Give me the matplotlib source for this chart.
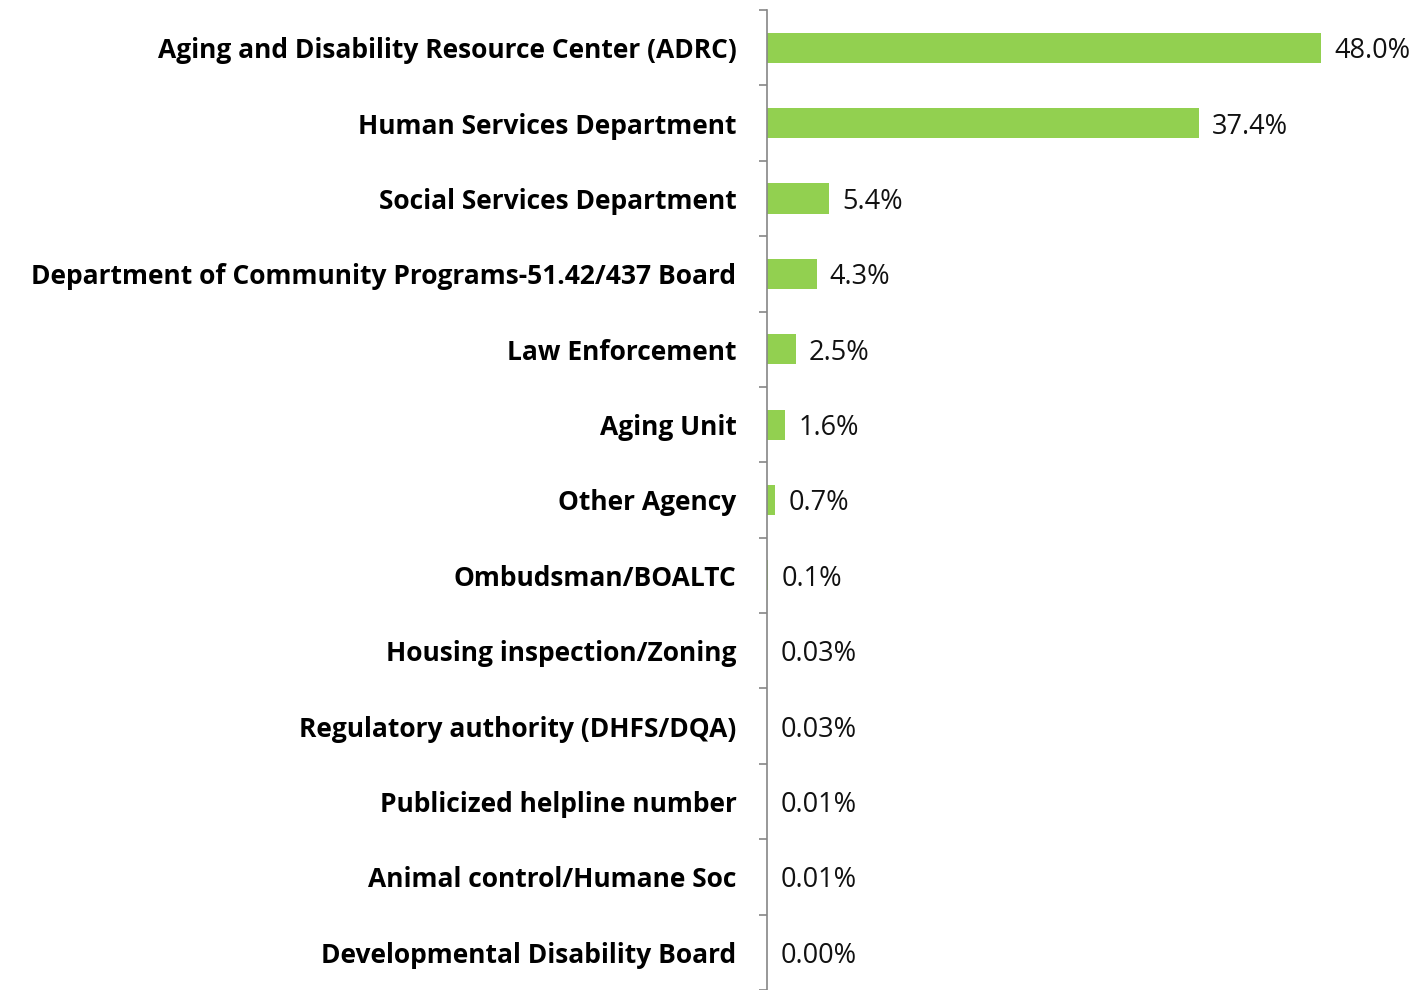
import matplotlib
matplotlib.use("Agg")
import matplotlib.pyplot as plt
import numpy as np

categories = [
    "Aging and Disability Resource Center (ADRC)",
    "Human Services Department",
    "Social Services Department",
    "Department of Community Programs-51.42/437 Board",
    "Law Enforcement",
    "Aging Unit",
    "Other Agency",
    "Ombudsman/BOALTC",
    "Housing inspection/Zoning",
    "Regulatory authority (DHFS/DQA)",
    "Publicized helpline number",
    "Animal control/Humane Soc",
    "Developmental Disability Board",
]
values = [48.0, 37.4, 5.4, 4.3, 2.5, 1.6, 0.7, 0.1, 0.03, 0.03, 0.01, 0.01, 0.00]
value_labels = ["48.0%", "37.4%", "5.4%", "4.3%", "2.5%", "1.6%", "0.7%", "0.1%",
                "0.03%", "0.03%", "0.01%", "0.01%", "0.00%"]

plt.rcParams['font.family'] = ['Open Sans', 'DejaVu Sans']

fig = plt.figure(figsize=(14.2, 9.9), dpi=100)
ax = fig.add_axes([767/1420, 0.0, 1 - 767/1420, 1 - 10/990])

n = len(categories)
y = np.arange(n)
ax.barh(y, values, height=0.4, color="#92D050")
ax.set_ylim(n - 0.5, -0.5)
ax.set_xlim(0, 653/11.54)

for yi, v, lab in zip(y, values, value_labels):
    ax.annotate(lab, (v, yi), xytext=(9.5, 0), textcoords="offset points",
                va="center_baseline", ha="left", fontsize=19.5, color="#111111")

ax.set_yticks(y)
ax.set_yticklabels(categories, fontsize=19, fontweight="bold", va="center_baseline")
ax.tick_params(axis="y", which="major", length=0, pad=22)
ax.set_yticks(np.arange(-0.5, n, 1.0), minor=True)
ax.tick_params(axis="y", which="minor", length=6, color="#868686", width=1.2)
ax.set_xticks([])
for s in ["top", "right", "bottom"]:
    ax.spines[s].set_visible(False)
ax.spines["left"].set_color("#868686")
ax.spines["left"].set_linewidth(1.2)

fig.savefig("out.png", dpi=100)
